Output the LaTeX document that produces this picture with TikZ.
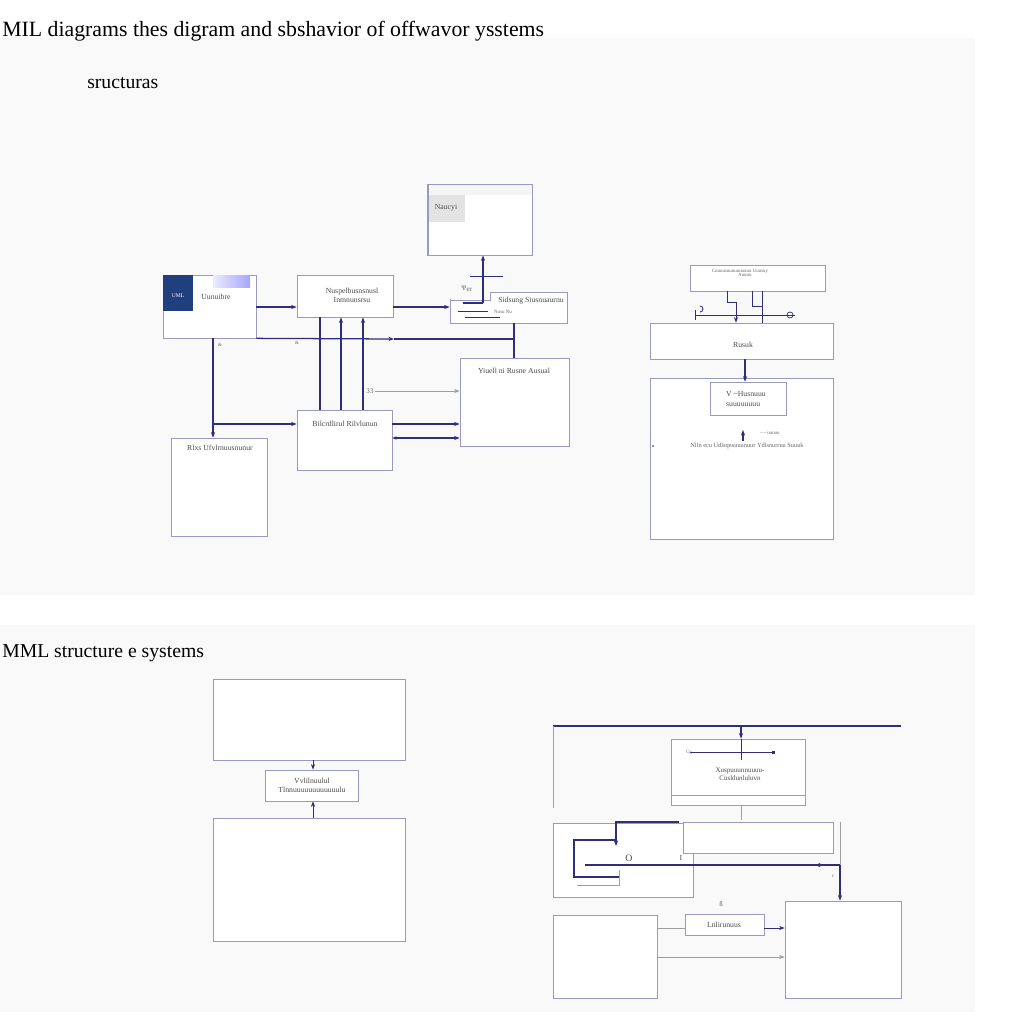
\documentclass[tikz,border=0pt]{standalone}
\usepackage{fontspec}
\setmainfont{Liberation Serif}
\usetikzlibrary{fit,arrows.meta}
\definecolor{navy}{HTML}{2E2E7A}
\definecolor{boxc}{HTML}{9A9AC0}
\definecolor{deepb}{HTML}{1F3F7F}
\begin{document}
\begin{tikzpicture}[x=0.25mm,y=-0.25mm,
  box/.style={draw=boxc, line width=0.5pt, fill=white, inner sep=0pt},
  con/.style={draw=navy, line width=0.9pt},
  thinl/.style={draw=gray!75, line width=0.4pt},
  arr/.style={-{Stealth[length=4pt,width=3pt]}},
  lbl/.style={font=\fontsize{5.5}{6.5}\selectfont, text=black!70, inner sep=1pt},
  tiny/.style={font=\fontsize{3.5}{4}\selectfont, text=black!60, inner sep=0.5pt},
  ttl/.style={font=\fontsize{14}{16}\selectfont, anchor=west, inner sep=0pt}]
\useasboundingbox (0,0) rectangle (1024,1024);
\fill[white] (0,0) rectangle (1024,1024);
\fill[gray!5] (0,38) rectangle (975,595);
\fill[gray!5] (0,625) rectangle (975,1012);
% titles
\node[ttl, font=\fontsize{15.5}{17}\selectfont] (t1) at (2,31) {MIL diagrams thes digram and sbshavior of offwavor ysstems};
\node[ttl] (t2) at (87,83) {sructuras};
\node[ttl] (t3) at (2,653) {MML structure e systems};
% ---------- upper left boxes
\node[box, fit={(428,185)(532,255)}] (A) {};
\fill[gray!8] (428.5,185.5) rectangle (531.5,195);
\fill[gray!22] (428.5,195) rectangle (465,222);
\draw[boxc, line width=0.5pt] (A.north west) rectangle (A.south east);
\node[lbl] (Al) at (446,208) {Naucyi};
\node[box, fit={(163,275)(256,338)}] (B) {};
\fill[deepb] (163,275) rectangle (193,311);
\shade[left color=blue!8, right color=blue!35] (213,276) rectangle (250,288);
\node[lbl, text=white, font=\fontsize{4}{5}\selectfont] (Bu) at (178,296) {UML};
\node[lbl] (Bl) at (216,297) {Uunuibre};
\node[box, fit={(297,275)(393,317)}] (C) {};
\node[lbl, align=center] (Cl) at (352,295) {Nuspelbusnsnusl\\Inmnunsrsu};
\node[box, fit={(450,292)(567,323)}] (D) {};
\fill[gray!5] (449,291) rectangle (490,299.5);
\draw[boxc, line width=0.5pt] (450,300) -- (490,300) -- (490,292);
\node[lbl] (Dl) at (531,301) {Sidsung Siusnuaurnu};
\node[tiny] (Dt) at (503,312) {Nusu Nu};
\node[box, fit={(460,358)(569,446)}] (E) {};
\node[lbl] (El) at (514,371) {Yiuell ni Rusne Ausual};
\node[box, fit={(297,410)(392,470)}] (F) {};
\node[lbl] (Fl) at (345,424) {Bilcrdlirul Rilvlunun};
\node[box, fit={(171,438)(267,536)}] (G) {};
\node[lbl] (Gl) at (220,448) {Rlxs Ufvlrnuusnunur};
% ---------- upper left connectors
\coordinate (y307) at (0,307);
\coordinate (y339) at (0,339);
\coordinate (y424) at (0,424);
\coordinate (y438) at (0,438);
\coordinate (y391) at (0,391);
\coordinate (x514) at (514,0);
\coordinate (x213) at (213,0);
\draw[con,arr] (B.east |- y307) -- (C.west |- y307);
\draw[con,arr] (C.east |- y307) -- (D.west |- y307);
\draw[con,arr] (B.south east) -- (394,339);
\draw[con] (394,339) -- (x514 |- y339) -- (x514 |- D.south);
\draw[con] (x514 |- y339) -- (x514 |- E.north);
\draw[con,arr] (x213 |- B.south) -- (x213 |- G.north);
\draw[con,arr] (x213 |- y424) -- (F.west |- y424);
\coordinate (x320) at (320,0);
\coordinate (x341) at (341,0);
\coordinate (x363) at (363,0);
\draw[con] (x320 |- F.north) -- (x320 |- C.south);
\draw[con,arr] (x341 |- F.north) -- (x341 |- C.south);
\draw[con,arr] (x363 |- F.north) -- (x363 |- C.south);
\draw[con,arr] (F.east |- y424) -- (E.west |- y424);
\draw[con,{Stealth[length=3pt,width=2.5pt]}-{Stealth[length=4pt,width=3pt]}] (F.east |- y438) -- (E.west |- y438);
\node[tiny, font=\fontsize{5}{6}\selectfont] (n33) at (370,391) {33};
\draw[thinl,arr] (n33.east) -- (E.west |- y391);
% D to A
\coordinate (x483) at (483,0);
\draw[con] (463,303) -- (483,303);
\draw[con,arr] (483,303) -- (x483 |- A.south);
\draw[con, line width=0.6pt] (470,276) -- (503,276);
\node[tiny, font=\fontsize{5}{6}\selectfont] (psi) at (467,289) {Ψ\textsubscript{er}};
\draw[con, line width=0.6pt] (458,311) -- (488,311);
\draw[con, line width=0.6pt] (465,317) -- (500,317);
\node[tiny] (b1) at (220,345) {\&};
\node[tiny] (b2) at (297,343) {\&};
% ---------- upper right
\node[box, fit={(690,265)(825,291)}] (H) {};
\node[tiny, align=center] (Hl) at (740,273) {Cuuuusuuuuuuuuuu Uuusuy\\[-1pt]\hspace{2em}Auuuu};
\node[box, fit={(650,323)(833,359)}] (I) {};
\node[lbl] (Il) at (743,345) {Rusuk};
\node[box, fit={(650,378)(833,539)}] (J) {};
\node[box, fit={(710,382)(786,415)}] (K) {};
\node[lbl, align=left] (Kl) at (746,399) {V \textasciitilde Husnuuu\\suuuuuuuu};
\node[tiny, font=\fontsize{4.5}{5}\selectfont] (Jl) at (747,446) {Nlln ecu Udlsqnsuuunuur Ydlsnurruu Suuuk};
\fill[navy] (653,446) circle (0.8);
\coordinate (x727) at (727,0);
\coordinate (x736) at (736,0);
\coordinate (x745) at (745,0);
\draw[con, line width=0.7pt] (x727 |- H.south) -- (727,302) -- (736,302);
\draw[con, line width=0.7pt, arr] (736,302) -- (x736 |- I.north);
\draw[con, line width=0.7pt] (752,291) -- (752,306) -- (762,306) -- (762,291);
\draw[con, line width=0.7pt] (762,306) -- (762,323);
\draw[con, line width=0.7pt] (695,315) -- (795,315);
\draw[con, line width=0.6pt] (695,310) -- (695,320);
\draw[con, line width=0.6pt] (700,312) arc (90:-90:3);
\draw[con, line width=0.5pt] (790,315) circle (3);
\draw[con,arr] (x745 |- I.south) -- (x745 |- K.north);
\draw[con,arr] (743,441) -- (743,430);
\node[tiny] (Jt) at (770,433) {\textasciitilde\,\textasciitilde\,uuuuu};
% ---------- lower left
\node[box, fit={(213,679)(405,760)}] (L) {};
\node[box, fit={(265,770)(358,801)}] (M) {};
\node[lbl, align=center] (Ml) at (312,785) {Vvlilnuulul\\Tlnnuuuuuuuuuuuulu};
\node[box, fit={(213,818)(405,941)}] (N) {};
\coordinate (x313) at (313,0);
\draw[con, line width=0.6pt, arr] (x313 |- L.south) -- (x313 |- M.north);
\draw[con, line width=0.6pt, arr] (x313 |- N.north) -- (x313 |- M.south);
% ---------- lower right
\node[box, fit={(671,739)(805,805)}] (O) {};
\draw[boxc, line width=0.5pt] (671,795) -- (805,795);
\node[lbl, align=center, font=\fontsize{5}{6}\selectfont] (Ol) at (740,774) {Xuspuuunnuuuu-\\Cusldunluluvn};
\node[box, fit={(553,823)(693,897)}] (Q) {};
\node[box, fit={(683,822)(833,853)}] (P) {};
\node[box, fit={(785,901)(901,998)}] (R) {};
\node[box, fit={(553,915)(657,998)}] (S) {};
\node[box, fit={(685,914)(764,935)}] (T) {};
\node[lbl] (Tl) at (724,925) {Lnlirunuus};
\coordinate (x741) at (741,0);
\coordinate (x840) at (840,0);
\coordinate (y865) at (0,865);
\coordinate (y928) at (0,928);
\coordinate (y957) at (0,957);
\coordinate (tl) at (553,726);
\coordinate (tr) at (901,726);
\draw[con, line width=1pt] (tl) -- (tr);
\draw[thinl] (tl) -- (553,808);
\draw[con,arr] (x741 |- tl) -- (x741 |- O.north);
\draw[con, line width=0.6pt] (x741 |- O.north) -- (741,760);
\draw[con, line width=0.6pt, -{Square[length=2pt,width=2pt]}] (690,752) -- (775,752);
\node[tiny] (Og) at (689,752) {Cg};
\draw[thinl] (x741 |- O.south) -- (741,820);
\draw[con, line width=1pt, arr] (679,822) -- (616,822) -- (616,846);
\draw[con, line width=1pt] (616,840) -- (574,840) -- (574,877) -- (619,877);
\draw[thinl] (577,885) -- (619,885) -- (619,870);
\draw[thinl] (x840 |- P.north) -- (840,865);
\draw[con, line width=1pt] (585,865) -- (840,865);
\draw[con, line width=0.8pt, arr] (830,865) -- (815,865);
\draw[con, line width=1pt, arr] (x840 |- y865) -- (x840 |- R.north);
\node[lbl, font=\fontsize{7}{8}\selectfont] (oo) at (629,858) {O};
\node[lbl] (ii) at (681,858) {I};
\node[tiny] (ee) at (833,876) {ε};
\node[tiny, font=\fontsize{5}{6}\selectfont] (ss) at (721,904) {ß};
\draw[thinl] (S.east |- y928) -- (T.west |- y928);
\draw[con, line width=0.6pt, arr] (T.east |- y928) -- (R.west |- y928);
\draw[thinl, arr] (S.east |- y957) -- (R.west |- y957);
\end{tikzpicture}
\end{document}
